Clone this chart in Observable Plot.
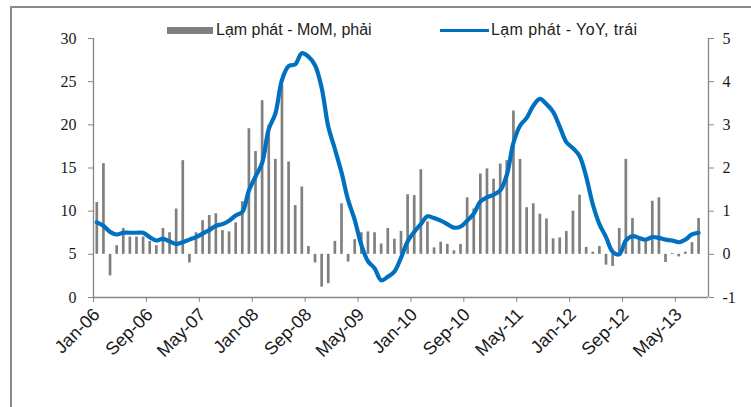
<!DOCTYPE html>
<html><head><meta charset="utf-8">
<script src="https://cdn.jsdelivr.net/npm/d3@7"></script>
<script src="https://cdn.jsdelivr.net/npm/@observablehq/plot@0.6"></script>
<style>
body{margin:0;background:#fff;}
#wrap{position:relative;width:751px;height:407px;overflow:hidden;background:#fff;}
#frame{position:absolute;left:10px;top:6px;width:800px;height:500px;border:2px solid #8a8a8a;box-sizing:border-box;}
#chart{position:absolute;left:0;top:0;}
.lg{position:absolute;font-family:"Liberation Sans",Arial,sans-serif;font-size:16px;color:#222;white-space:nowrap;line-height:16px;}
.sw{position:absolute;}
</style></head>
<body>
<div id="wrap">
  <div id="frame"></div>
  <div id="chart"></div>
  <div class="sw" style="left:167px;top:27px;width:46px;height:7px;background:#808080;"></div>
  <div class="lg" style="left:216px;top:22px;">Lạm phát - MoM, phải</div>
  <div class="sw" style="left:440px;top:29px;width:49px;height:3px;background:#0070C0;"></div>
  <div class="lg" style="left:491px;top:22px;letter-spacing:0.4px;">Lạm phát - YoY, trái</div>
</div>
<script>
// Monthly data Jan-06 .. Aug-13 (category axis runs through Sep-13)
const xLabels = ["Jan-06","Sep-06","May-07","Jan-08","Sep-08","May-09","Jan-10","Sep-10","May-11","Jan-12","Sep-12","May-13"];
const nCategories = 93;
// MoM inflation, % (right axis)
const mom = [
  1.2, 2.1, -0.5, 0.2, 0.6, 0.4, 0.4, 0.4, 0.3, 0.2, 0.6, 0.5,
  1.05, 2.17, -0.2, 0.5, 0.78, 0.9, 0.94, 0.55, 0.52, 0.73, 1.22, 2.91,
  2.38, 3.56, 2.99, 2.2, 3.91, 2.14, 1.13, 1.56, 0.18, -0.2, -0.76, -0.68,
  0.3, 1.17, -0.18, 0.34, 0.5, 0.52, 0.5, 0.24, 0.6, 0.35, 0.53, 1.38,
  1.36, 1.96, 0.75, 0.15, 0.28, 0.23, 0.08, 0.23, 1.31, 1.05, 1.86, 1.98,
  1.74, 2.09, 2.17, 3.32, 2.2, 1.08, 1.17, 0.93, 0.82, 0.36, 0.38, 0.53,
  1.0, 1.37, 0.16, 0.05, 0.18, -0.25, -0.28, 0.6, 2.2, 0.83, 0.4, 0.29,
  1.23, 1.31, -0.19, 0.02, -0.06, 0.05, 0.27, 0.83
];
// YoY inflation, % (left axis)
const yoy = [
  8.7, 8.3, 7.6, 7.3, 7.5, 7.5, 7.5, 7.5, 7.0, 6.6, 6.8, 6.5,
  6.2, 6.4, 6.7, 7.0, 7.4, 7.8, 8.3, 8.5, 8.9, 9.5, 9.9, 12.4,
  14.0, 15.6, 19.5, 21.3, 25.2, 26.8, 27.0, 28.3, 27.9, 26.9, 24.3, 19.8,
  17.2, 14.5, 11.3, 9.0, 6.1, 4.2, 3.4, 2.0, 2.4, 3.0, 4.6, 6.5,
  7.6, 8.5, 9.4, 9.2, 8.9, 8.5, 8.1, 8.2, 8.9, 9.7, 11.1, 11.6,
  11.9, 12.4, 14.2, 17.9, 19.9, 20.8, 22.2, 23.0, 22.4, 21.5, 19.8, 18.0,
  17.3, 16.4, 14.0, 10.8, 8.5, 7.0, 5.3, 5.0, 6.6, 7.1, 6.9, 6.7,
  7.0, 6.9, 6.7, 6.6, 6.4, 6.7, 7.3, 7.5
];
const leftTicks = [0, 5, 10, 15, 20, 25, 30];
const rightTicks = [-1, 0, 1, 2, 3, 4, 5];

// right axis (-1..5) mapped onto left scale (0..30)
const toLeft = r => (r + 1) * 5;
const fromLeft = l => Math.round(l / 5 - 1);

const data = mom.map((m, i) => ({i, mom: m, yoy: yoy[i]}));
const labelIdx = xLabels.map((_, k) => k * 8);
const tickIdx = xLabels.map((_, k) => k * 8 - 0.5);

const axisGrey = "#868686";
const chart = Plot.plot({
  width: 751, height: 407,
  marginLeft: 93, marginRight: 43, marginTop: 38, marginBottom: 110,
  x: {domain: [-0.5, nCategories - 0.5], axis: null},
  y: {domain: [0, 30], axis: null},
  marks: [
    Plot.ruleX(data, {x: "i", y1: () => toLeft(0), y2: d => toLeft(d.mom), stroke: "#808080", strokeWidth: 2.7}),
    Plot.ruleX([-0.5, nCategories - 0.5], {stroke: axisGrey, strokeWidth: 1.3}),
    Plot.ruleY([0], {stroke: axisGrey, strokeWidth: 1.3}),
    Plot.axisY({anchor: "left", label: null, ticks: leftTicks, tickSize: 5, tickPadding: 12, stroke: axisGrey,
      fontSize: 16, fontFamily: "Liberation Serif", fill: "#1a1a1a"}),
    Plot.axisY({anchor: "right", label: null, ticks: rightTicks.map(toLeft), tickFormat: v => String(fromLeft(v)),
      tickSize: 5, tickPadding: 9, stroke: axisGrey, fontSize: 16, fontFamily: "Liberation Serif", fill: "#1a1a1a"}),
    Plot.axisX({label: null, ticks: tickIdx, tickFormat: () => "", tickSize: 5, stroke: axisGrey}),
    Plot.axisX({label: null, ticks: labelIdx, tickFormat: i => xLabels[i / 8], tickRotate: -45, tickSize: 0, tickPadding: 14,
      fontSize: 18, fontFamily: "Liberation Sans", fill: "#1a1a1a"}),
    Plot.line(data, {x: "i", y: "yoy", stroke: "#0070C0", strokeWidth: 4.2, curve: "catmull-rom", strokeLinejoin: "round"})
  ]
});
document.getElementById("chart").appendChild(chart);
</script>
</body></html>
